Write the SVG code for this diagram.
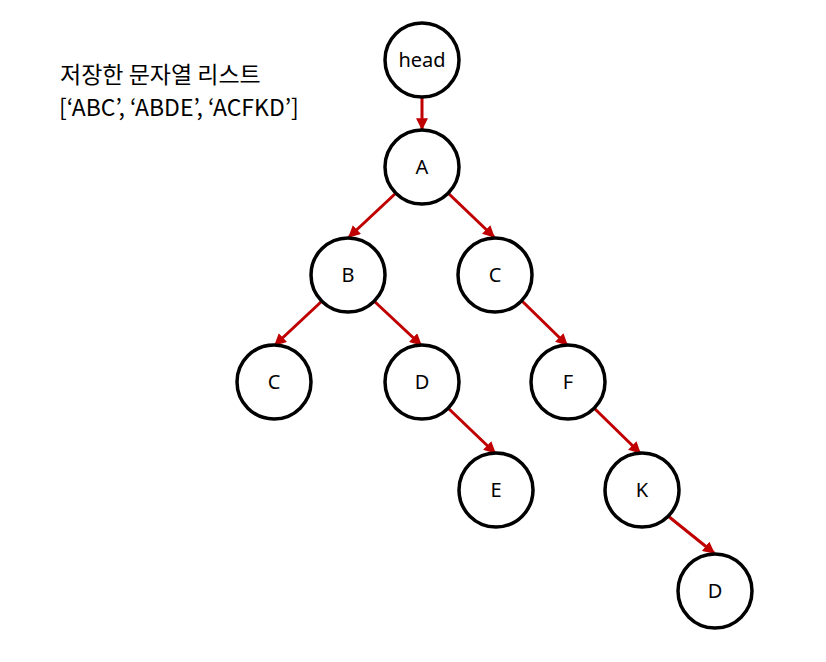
<svg xmlns="http://www.w3.org/2000/svg" width="826" height="662" viewBox="0 0 826 662">
<defs>
<marker id="ah" viewBox="0 0 10 10" refX="9" refY="5" markerWidth="4" markerHeight="4" markerUnits="strokeWidth" orient="auto">
<path d="M0,0 L10,5 L0,10 z" fill="#C00000"/>
</marker>
<style>
.n{fill:#fff;stroke:#000;stroke-width:3.5}
.t{font-family:"Noto Sans","Noto Sans CJK KR",sans-serif;font-size:20px;text-anchor:middle;fill:#000}
.e{stroke:#C00000;stroke-width:3;fill:none;marker-end:url(#ah)}
.h{font-family:"Noto Sans CJK KR","Noto Sans",sans-serif;font-size:23px;fill:#000}
</style>
</defs>
<rect width="826" height="662" fill="#fff"/>
<text class="h" x="60" y="83">저장한 문자열 리스트</text>
<text class="h" x="59" y="116">[‘ABC’, ‘ABDE’, ‘ACFKD’]</text>
<g id="connectors">
<line class="e" x1="422" y1="98" x2="422" y2="129"/>
<line class="e" x1="396" y1="193" x2="349" y2="237"/>
<line class="e" x1="448" y1="193" x2="494" y2="237"/>
<line class="e" x1="322" y1="301" x2="275" y2="345"/>
<line class="e" x1="374" y1="301" x2="421" y2="345"/>
<line class="e" x1="521" y1="300" x2="567" y2="345"/>
<line class="e" x1="448" y1="408" x2="495" y2="453"/>
<line class="e" x1="594" y1="408" x2="640" y2="453"/>
<line class="e" x1="668" y1="516" x2="714" y2="553"/>
</g>
<g id="head"><circle class="n" cx="422" cy="60" r="37"/><text class="t" x="422" y="67">head</text></g>
<g id="A"><circle class="n" cx="422" cy="167" r="37"/><text class="t" x="422" y="174">A</text></g>
<g id="B"><circle class="n" cx="348" cy="275" r="37"/><text class="t" x="348" y="282">B</text></g>
<g id="C1"><circle class="n" cx="495" cy="275" r="37"/><text class="t" x="495" y="282">C</text></g>
<g id="C2"><circle class="n" cx="274" cy="382" r="37"/><text class="t" x="274" y="389">C</text></g>
<g id="D1"><circle class="n" cx="422" cy="382" r="37"/><text class="t" x="422" y="389">D</text></g>
<g id="F"><circle class="n" cx="568" cy="382" r="37"/><text class="t" x="568" y="389">F</text></g>
<g id="E"><circle class="n" cx="496" cy="490" r="37"/><text class="t" x="496" y="497">E</text></g>
<g id="K"><circle class="n" cx="642" cy="490" r="37"/><text class="t" x="642" y="497">K</text></g>
<g id="D2"><circle class="n" cx="715" cy="591" r="37"/><text class="t" x="715" y="598">D</text></g>
</svg>
